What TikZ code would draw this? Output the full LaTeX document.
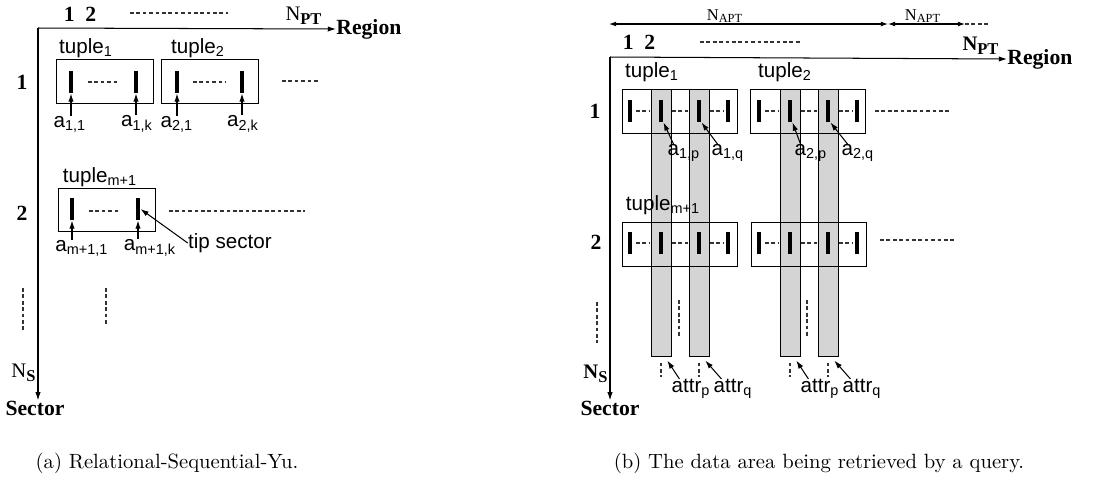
\documentclass[tikz,border=0pt]{standalone}
\usepackage{fontspec}
\newfontfamily\sanslbl{Liberation Sans}
\newfontfamily\seriflbl{Liberation Serif}
\usetikzlibrary{arrows.meta}

\begin{document}
\begin{tikzpicture}[x=0.485pt,y=-0.485pt,
    lbl/.style={font=\sanslbl\fontsize{10}{12}\selectfont, inner sep=0pt},
    axlbl/.style={font=\seriflbl\bfseries\fontsize{10.5}{12}\selectfont, inner sep=0pt},
    nlbl/.style={font=\seriflbl\fontsize{10}{12}\selectfont, inner sep=0pt},
    nsmall/.style={font=\seriflbl\fontsize{8}{9}\selectfont, inner sep=0pt},
    arr/.style={-{Latex[length=4pt,width=2.6pt]}, line width=0.5pt},
    darr/.style={{Latex[length=3.5pt,width=2.4pt]}-{Latex[length=3.5pt,width=2.4pt]}, line width=0.5pt},
    dots/.style={black!80, line width=0.5pt, dash pattern=on 1.8pt off 1.3pt},
    bar/.style={fill=black, inner sep=0pt, minimum width=2pt, minimum height=10.7pt},
    tupa/.style={draw, inner sep=0pt, minimum width=47pt, minimum height=21pt},
    tupb/.style={draw, inner sep=0pt, minimum width=55.8pt, minimum height=21.3pt},
    attcol/.style={draw, fill=black!17, inner sep=0pt, minimum width=9.7pt, minimum height=129.5pt}]
  \useasboundingbox (0,0) rectangle (1094,494);

  % (a)
  \coordinate (oa) at (38,28);
  \node[axlbl, anchor=west] (rega) at (336,29) {Region};
  \node[axlbl] (seca) at (35,408) {Sector};
  \draw[arr] (oa) -- (rega.west);
  \draw[arr] (oa) -- (oa |- seca.north);
  \node[nlbl] (npta) at (304,16) {N\textsubscript{\bfseries\footnotesize PT}};
  \node[nlbl] (nsa) at (24,373) {N\textsubscript{\bfseries\footnotesize S}};
  \node[axlbl] (idxa) at (80,14) {1\enspace2};
  \draw[dots] (130,13) -- (228,13);
  \node[axlbl] (r1a) at (22,82) {1};
  \node[axlbl] (r2a) at (22,213) {2};

  \node[tupa] (t1) at (104.5,81.5) {};
  \node[tupa] (t2) at (210,81.5) {};
  \node[tupa] (tm) at (106.5,210) {};
  \node[lbl] (t1n) at (86,48) {tuple\textsubscript{1}};
  \node[lbl] (t2n) at (198,48) {tuple\textsubscript{2}};
  \node[lbl] (tmn) at (100,177) {tuple\textsubscript{m+1}};

  \node[bar] (b11) at (71,82) {};
  \node[bar] (b1k) at (136,82) {};
  \node[bar] (b21) at (177,82) {};
  \node[bar] (b2k) at (242,82) {};
  \node[bar] (bm1) at (72,209) {};
  \node[bar] (bmk) at (138,209) {};
  \draw[dots] (88,82) -- (118,82);
  \draw[dots] (193,82) -- (225,82);
  \draw[dots] (282,81) -- (318,81);
  \draw[dots] (89,211) -- (120,211);
  \draw[dots] (169,211) -- (305,211);

  \node[lbl] (a11) at (70,124) {a\textsubscript{1,1}};
  \node[lbl] (a1k) at (137,124) {a\textsubscript{1,k}};
  \node[lbl] (a21) at (177,124) {a\textsubscript{2,1}};
  \node[lbl] (a2k) at (243,124) {a\textsubscript{2,k}};
  \node[lbl] (am1) at (82,248) {a\textsubscript{m+1,1}};
  \node[lbl] (amk) at (150,248) {a\textsubscript{m+1,k}};
  \node[lbl] (tip) at (230,243) {tip sector};
  \begin{scope}[arr]
    \draw (a11.north -| b11) -- (b11.south);
    \draw (a1k.north -| b1k) -- (b1k.south);
    \draw (a21.north -| b21) -- (b21.south);
    \draw (a2k.north -| b2k) -- (b2k.south);
    \draw (am1.north -| bm1) -- (bm1.south);
    \draw (amk.north -| bmk) -- (bmk.south);
    \draw (tip.west) -- (bmk.east);
  \end{scope}
  \draw[dots] (23,288) -- (23,332);
  \draw[dots] (106,288) -- (106,325);

  % (b)
  \coordinate (d0) at (609,24);
  \coordinate (d1) at (888,24);
  \coordinate (d2) at (965,24);
  \draw[darr] (d0) -- (d1);
  \draw[darr] (d1) -- (d2);
  \draw[dots] (d2) -- ++(25,0);
  \node[nsmall] (napt1) at (725,16) {N\textsubscript{APT}};
  \node[nsmall] (napt2) at (923,16) {N\textsubscript{APT}};

  \coordinate (ob) at (610,57);
  \node[axlbl, anchor=west] (regb) at (1007,59) {Region};
  \node[axlbl] (secb) at (610,408) {Sector};
  \draw[arr] (ob) -- (regb.west);
  \draw[arr] (ob) -- (ob |- secb.north);
  \node[nlbl] (nptb) at (981,46) {\bfseries N\textsubscript{\footnotesize PT}};
  \node[nlbl] (nsb) at (596,374) {\bfseries N\textsubscript{\footnotesize S}};
  \node[axlbl] (idxb) at (639,42) {1\enspace2};
  \draw[dots] (700,42) -- (800,42);
  \node[axlbl] (r1b) at (595,111) {1};
  \node[axlbl] (r2b) at (596,242) {2};

  \node[attcol] (cp1) at (661,222.5) {};
  \node[attcol] (cq1) at (699,222.5) {};
  \node[attcol] (cp2) at (790,222.5) {};
  \node[attcol] (cq2) at (828,222.5) {};

  \node[tupb] (u11) at (679.5,111) {};
  \node[tupb] (u12) at (808,111) {};
  \node[tupb] (u21) at (680,244) {};
  \node[tupb] (u22) at (808.5,244) {};
  \node[lbl] (u1n) at (652,72) {tuple\textsubscript{1}};
  \node[lbl] (u2n) at (785,72) {tuple\textsubscript{2}};
  \node[lbl] (umn) at (663,205) {tuple\textsubscript{m+1}};

  \foreach \y [count=\r] in {111,243}
    \foreach \x [count=\t] in {622,751} {
      \foreach \d [count=\i] in {8,39,77,106}
        \node[bar] (b\r\t\i) at (\x+\d,\y) {};
      \foreach \s/\e in {14/28,50/66,88/102}
        \draw[dots] (\x+\s,\y) -- (\x+\e,\y);
    }
  \draw[dots] (875,111) -- (950,111);
  \draw[dots] (880,240) -- (955,240);

  \node[lbl] (a1p) at (684,153) {a\textsubscript{1,p}};
  \node[lbl] (a1q) at (728,153) {a\textsubscript{1,q}};
  \node[lbl] (a2p) at (811,153) {a\textsubscript{2,p}};
  \node[lbl] (a2q) at (858,153) {a\textsubscript{2,q}};
  \node[lbl] (atp1) at (691,389) {attr\textsubscript{p}};
  \node[lbl] (atq1) at (733,389) {attr\textsubscript{q}};
  \node[lbl] (atp2) at (820,389) {attr\textsubscript{p}};
  \node[lbl] (atq2) at (862,389) {attr\textsubscript{q}};
  \begin{scope}[arr]
    \draw ([xshift=3pt]a1p.north west) -- (b112.south east);
    \draw ([xshift=3pt]a1q.north west) -- (b113.south east);
    \draw ([xshift=3pt]a2p.north west) -- (b122.south east);
    \draw ([xshift=3pt]a2q.north west) -- (b123.south east);
    \draw ([xshift=4pt]atp1.north west) -- ([xshift=-2pt,yshift=-2pt]cp1.south east);
    \draw ([xshift=4pt]atq1.north west) -- ([xshift=-2pt,yshift=-2pt]cq1.south east);
    \draw ([xshift=4pt]atp2.north west) -- ([xshift=-2pt,yshift=-2pt]cp2.south east);
    \draw ([xshift=4pt]atq2.north west) -- ([xshift=-2pt,yshift=-2pt]cq2.south east);
  \end{scope}
  \foreach \c in {cp1,cq1,cp2,cq2}
    \draw[dots] ([yshift=-3pt]\c.south) -- ++(0,14);
  \draw[dots] (597,302) -- (597,343);
  \draw[dots] (679,300) -- (679,337);
  \draw[dots] (807,300) -- (807,337);

  \node (capa) at (167,463) {(a) Relational-Sequential-Yu.};
  \node (capb) at (819,463) {(b) The data area being retrieved by a query.};
\end{tikzpicture}
\end{document}
